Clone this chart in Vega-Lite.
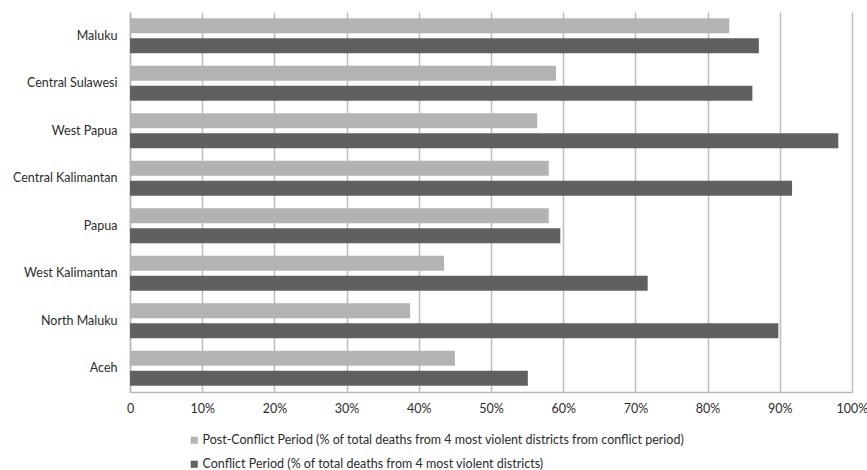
{
  "$schema": "https://vega.github.io/schema/vega-lite/v6.json",
  "width": 722,
  "height": 380,
  "autosize": "none",
  "padding": {"left": 130, "top": 12, "right": 15, "bottom": 78},
  "background": "white",
  "config": {
    "font": "Lato",
    "view": {"stroke": null}
  },
  "data": {
    "values": [
      {"region": "Maluku", "period": "Post-Conflict Period (% of total deaths from 4 most violent districts from conflict period)", "value": 0.830},
      {"region": "Maluku", "period": "Conflict Period (% of total deaths from 4 most violent districts)", "value": 0.871},
      {"region": "Central Sulawesi", "period": "Post-Conflict Period (% of total deaths from 4 most violent districts from conflict period)", "value": 0.590},
      {"region": "Central Sulawesi", "period": "Conflict Period (% of total deaths from 4 most violent districts)", "value": 0.862},
      {"region": "West Papua", "period": "Post-Conflict Period (% of total deaths from 4 most violent districts from conflict period)", "value": 0.564},
      {"region": "West Papua", "period": "Conflict Period (% of total deaths from 4 most violent districts)", "value": 0.981},
      {"region": "Central Kalimantan", "period": "Post-Conflict Period (% of total deaths from 4 most violent districts from conflict period)", "value": 0.580},
      {"region": "Central Kalimantan", "period": "Conflict Period (% of total deaths from 4 most violent districts)", "value": 0.917},
      {"region": "Papua", "period": "Post-Conflict Period (% of total deaths from 4 most violent districts from conflict period)", "value": 0.580},
      {"region": "Papua", "period": "Conflict Period (% of total deaths from 4 most violent districts)", "value": 0.596},
      {"region": "West Kalimantan", "period": "Post-Conflict Period (% of total deaths from 4 most violent districts from conflict period)", "value": 0.435},
      {"region": "West Kalimantan", "period": "Conflict Period (% of total deaths from 4 most violent districts)", "value": 0.717},
      {"region": "North Maluku", "period": "Post-Conflict Period (% of total deaths from 4 most violent districts from conflict period)", "value": 0.388},
      {"region": "North Maluku", "period": "Conflict Period (% of total deaths from 4 most violent districts)", "value": 0.898},
      {"region": "Aceh", "period": "Post-Conflict Period (% of total deaths from 4 most violent districts from conflict period)", "value": 0.450},
      {"region": "Aceh", "period": "Conflict Period (% of total deaths from 4 most violent districts)", "value": 0.551}
    ]
  },
  "mark": {"type": "bar"},
  "encoding": {
    "y": {
      "field": "region",
      "type": "nominal",
      "sort": ["Maluku", "Central Sulawesi", "West Papua", "Central Kalimantan", "Papua", "West Kalimantan", "North Maluku", "Aceh"],
      "scale": {"paddingInner": 0.26, "paddingOuter": 0.13},
      "axis": {
        "title": null,
        "domain": true,
        "domainColor": "#b8b8b8",
        "domainWidth": 1.5,
        "ticks": false,
        "labelPadding": 13,
        "labelFontSize": 12.5,
        "labelColor": "#2b2b2b",
        "labelFont": "Lato"
      }
    },
    "yOffset": {
      "field": "period",
      "type": "nominal",
      "sort": ["Post-Conflict Period (% of total deaths from 4 most violent districts from conflict period)", "Conflict Period (% of total deaths from 4 most violent districts)"],
      "scale": {"paddingInner": 0.25}
    },
    "x": {
      "field": "value",
      "type": "quantitative",
      "scale": {"domain": [0, 1], "nice": false},
      "axis": {
        "title": null,
        "values": [0, 0.1, 0.2, 0.3, 0.4, 0.5, 0.6, 0.7, 0.8, 0.9, 1],
        "labelExpr": "datum.value == 0 ? '0' : format(datum.value, '.0%')",
        "grid": true,
        "gridColor": "#bdbdbd",
        "gridWidth": 1.5,
        "domain": true,
        "domainColor": "#b8b8b8",
        "domainWidth": 1.5,
        "ticks": false,
        "labelPadding": 10,
        "labelFontSize": 12.5,
        "labelColor": "#2b2b2b",
        "labelFont": "Lato",
        "labelFlush": false
      }
    },
    "color": {
      "field": "period",
      "type": "nominal",
      "sort": ["Post-Conflict Period (% of total deaths from 4 most violent districts from conflict period)", "Conflict Period (% of total deaths from 4 most violent districts)"],
      "scale": {
        "domain": ["Post-Conflict Period (% of total deaths from 4 most violent districts from conflict period)", "Conflict Period (% of total deaths from 4 most violent districts)"],
        "range": ["#b3b3b3", "#606060"]
      },
      "legend": {
        "title": null,
        "orient": "none",
        "legendX": 58,
        "legendY": 422,
        "direction": "vertical",
        "symbolType": "square",
        "symbolSize": 50,
        "symbolStrokeWidth": 0,
        "labelFontSize": 12.5,
        "labelColor": "#2b2b2b",
        "labelFont": "Lato",
        "labelLimit": 700,
        "labelOffset": 2,
        "rowPadding": 11
      }
    }
  }
}
